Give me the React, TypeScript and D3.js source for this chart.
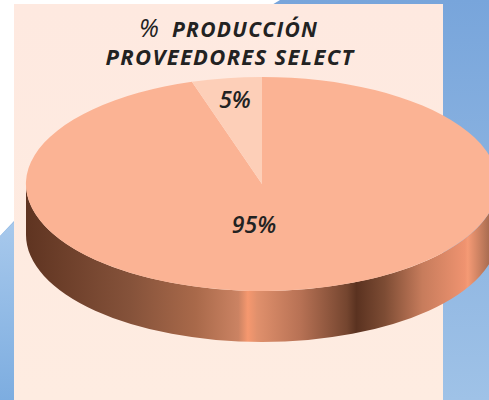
import React, { useRef, useEffect } from "react";
import * as d3 from "d3";

const sliceLabels = ["95%", "5%"];
const sliceValues = [95.2, 4.8];
const sliceColors = ["#fbb394", "#fdcfb8"];
const titleFirstPct = "%";
const titleFirstWord = "PRODUCCIÓN";
const titleSecond = "PROVEEDORES SELECT";

const wallStops = [
  { at: 0, color: "#5f3421" },
  { at: 0.22, color: "#85523a" },
  { at: 0.36, color: "#a9694a" },
  { at: 0.45, color: "#cb8363" },
  { at: 0.47, color: "#f6986f" },
  { at: 0.49, color: "#e0906c" },
  { at: 0.58, color: "#b87255" },
  { at: 0.68, color: "#74452f" },
  { at: 0.7, color: "#5a3220" },
  { at: 0.76, color: "#7d4c34" },
  { at: 0.84, color: "#c77c5c" },
  { at: 0.93, color: "#ef9370" },
  { at: 0.936, color: "#f59a75" },
  { at: 1, color: "#8a5a42" },
];

const WIDTH = 489;
const HEIGHT = 400;

const App = () => {
  const ref = useRef<SVGSVGElement | null>(null);

  useEffect(() => {
    const svg = d3.select(ref.current);
    svg.selectAll("*").remove();

    const cx = 262;
    const cy = 184;
    const rx = 236;
    const ry = 107;
    const depth = 51;

    const defs = svg.append("defs");

    const bg = defs
      .append("linearGradient")
      .attr("id", "bg-blue")
      .attr("x1", "0%")
      .attr("y1", "0%")
      .attr("x2", "0%")
      .attr("y2", "100%");
    bg.append("stop").attr("offset", "0%").attr("stop-color", "#78a5db");
    bg.append("stop").attr("offset", "100%").attr("stop-color", "#9fc2e7");

    const bgLeft = defs
      .append("linearGradient")
      .attr("id", "bg-left")
      .attr("gradientUnits", "userSpaceOnUse")
      .attr("x1", 0)
      .attr("y1", 220)
      .attr("x2", 0)
      .attr("y2", 400);
    bgLeft.append("stop").attr("offset", "0%").attr("stop-color", "#a8c9ec");
    bgLeft.append("stop").attr("offset", "100%").attr("stop-color", "#7dadE0");

    const panel = defs
      .append("linearGradient")
      .attr("id", "panel-fill")
      .attr("x1", "0%")
      .attr("y1", "0%")
      .attr("x2", "0%")
      .attr("y2", "100%");
    panel.append("stop").attr("offset", "0%").attr("stop-color", "#fee9e0");
    panel.append("stop").attr("offset", "100%").attr("stop-color", "#feece1");

    const wall = defs
      .append("linearGradient")
      .attr("id", "pie-wall")
      .attr("gradientUnits", "userSpaceOnUse")
      .attr("x1", cx - rx)
      .attr("y1", 0)
      .attr("x2", cx + rx)
      .attr("y2", 0);
    wall
      .selectAll("stop")
      .data(wallStops)
      .enter()
      .append("stop")
      .attr("offset", (d) => d.at)
      .attr("stop-color", (d) => d.color);

    // page backdrop: white corner, blue sweep behind the panel
    svg.append("rect").attr("width", WIDTH).attr("height", HEIGHT).attr("fill", "#fff");
    svg
      .append("path")
      .attr("d", "M280,0 C180,60 60,170 0,236 L0,400 L489,400 L489,0 Z")
      .attr("fill", "url(#bg-blue)");
    svg
      .append("path")
      .attr("d", "M14,222 L0,236 L0,400 L14,400 Z")
      .attr("fill", "url(#bg-left)");

    svg
      .append("rect")
      .attr("x", 14)
      .attr("y", 4)
      .attr("width", 429)
      .attr("height", HEIGHT - 4)
      .attr("fill", "url(#panel-fill)");

    svg
      .append("path")
      .attr(
        "d",
        `M${cx - rx},${cy} A${rx},${ry} 0 0 0 ${cx + rx},${cy} L${cx + rx},${cy + depth} A${rx},${ry} 0 0 1 ${cx - rx},${cy + depth} Z`
      )
      .attr("fill", "url(#pie-wall)");

    const pie = d3.pie<number>().sort(null);
    const arcs = pie(sliceValues);
    const arc = d3.arc<d3.PieArcDatum<number>>().innerRadius(0).outerRadius(1);

    const top = svg
      .append("g")
      .attr("transform", `translate(${cx},${cy}) scale(${rx},${ry})`);
    top
      .selectAll("path")
      .data(arcs)
      .enter()
      .append("path")
      .attr("d", arc)
      .attr("fill", (_, i) => sliceColors[i]);

    const font = "'Open Sans', sans-serif";

    const firstLine = svg
      .append("text")
      .attr("x", 139)
      .attr("y", 37)
      .style("font-family", font)
      .style("font-style", "italic")
      .style("fill", "#222");
    firstLine
      .append("tspan")
      .style("font-size", "25px")
      .style("font-weight", 500)
      .text(titleFirstPct);
    firstLine
      .append("tspan")
      .attr("x", 172)
      .style("font-size", "21px")
      .style("font-weight", 700)
      .style("letter-spacing", "1.3px")
      .text(titleFirstWord);

    svg
      .append("text")
      .attr("x", 230)
      .attr("y", 65)
      .attr("text-anchor", "middle")
      .style("font-family", font)
      .style("font-size", "22px")
      .style("font-weight", 700)
      .style("font-style", "italic")
      .style("letter-spacing", "1.3px")
      .style("fill", "#222")
      .text(titleSecond);

    const labelPos = [
      [254, 233],
      [235, 108],
    ];
    svg
      .selectAll("text.pct")
      .data(sliceLabels)
      .enter()
      .append("text")
      .attr("class", "pct")
      .attr("x", (_, i) => labelPos[i][0])
      .attr("y", (_, i) => labelPos[i][1])
      .attr("text-anchor", "middle")
      .style("font-family", font)
      .style("font-size", "23px")
      .style("font-weight", 600)
      .style("font-style", "italic")
      .style("fill", "#222")
      .text((d) => d);
  }, []);

  return (
    <svg
      ref={ref}
      width={WIDTH}
      height={HEIGHT}
      style={{ position: "absolute", left: 0, top: 0 }}
    />
  );
};

export default App;
